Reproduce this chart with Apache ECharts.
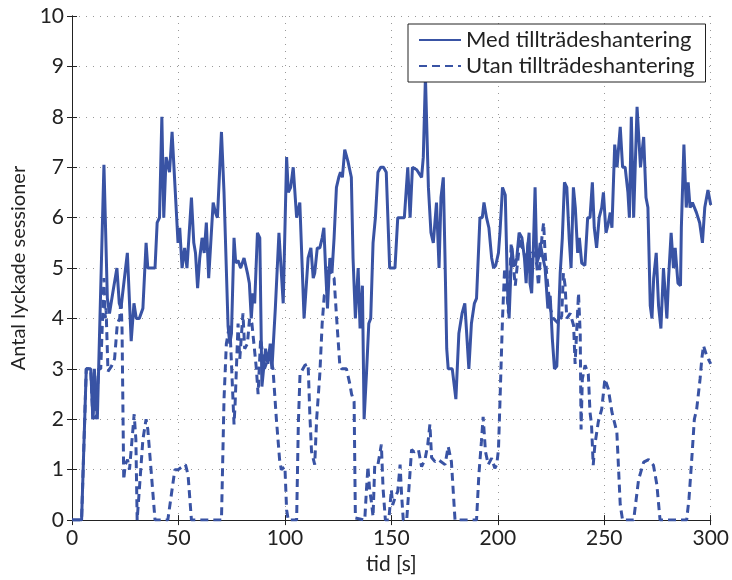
<!DOCTYPE html>
<html>
<head>
<meta charset="utf-8">
<script src="https://cdn.jsdelivr.net/npm/echarts@6/dist/echarts.min.js"></script>
<style>
  html, body { margin: 0; padding: 0; background: #fff; }
  #chart { width: 732px; height: 580px; }
</style>
</head>
<body>
<div id="chart"></div>
<script>
// tid [s] och antal sessioner
var medT = [0, 4.5, 6.7, 8.8, 9.8, 10.5, 11.9, 15, 16.6, 17.6, 19.5, 21.1, 22.2, 23, 23.8, 26, 27.8, 29.1, 30.2, 31.6,
  33.3, 34.8, 35.6, 39, 40, 41.1, 42.2, 43.1, 44.2, 45.8, 47, 49.8, 50.6, 51.7, 52.9, 54, 56.1, 57.2, 58, 59,
  60, 61.1, 62.1, 63.1, 64.2, 66.3, 67.4, 68.3, 70.2, 71.4, 73.3, 74.1, 74.9, 76.1, 76.9, 78, 79.2, 80.8, 82.4, 83.3,
  84.2, 85, 85.8, 87.1, 88.2, 89.2, 90.1, 90.9, 92, 93.1, 93.9, 95.5, 97.2, 99.2, 100.8, 101.6, 102.7, 103.9, 105.5, 106.3,
  107, 109, 110.9, 112.2, 113.3, 114, 115.2, 116.4, 117.5, 118.3, 119.2, 120, 121.1, 122.1, 123.1, 124.2, 125.3, 126.1, 127, 128.1,
  129.7, 131.2, 132, 133.1, 134.4, 135.3, 136.4, 137.2, 138.3, 139.4, 140.3, 141.4, 142.5, 143.7, 145, 146.3, 147.6, 149.2, 151.7, 153,
  156.1, 157.7, 158.8, 159.9, 161.9, 164.2, 165, 166, 167.4, 168.6, 169.7, 171.2, 172.4, 173.3, 174.4, 175.2, 176, 176.7, 178.6, 180.3,
  181.7, 183.2, 184.5, 186.4, 187.6, 189, 190, 190.6, 191.6, 192.7, 193.5, 194.7, 195.8, 197.1, 198, 199, 200.3, 201, 202.2, 203.5,
  204.3, 204.7, 205.3, 206.1, 206.6, 207.4, 208.2, 208.9, 210, 211.3, 212.5, 213.3, 214, 214.7, 215.1, 215.9, 216.7, 217.5, 218.3, 219.1,
  219.9, 220.7, 222.2, 223.5, 224.6, 225.6, 226.6, 227.7, 229.3, 230.3, 231.3, 232.4, 233.5, 234.4, 235.5, 236.4, 237.5, 238.3, 239.4, 240.9,
  242.2, 243.3, 244.4, 245.3, 246.4, 247.6, 248.8, 249.6, 250.8, 251.7, 252.8, 253.6, 254.9, 256, 257.5, 258.6, 259.8, 261.1, 261.8, 262.7,
  263.8, 265.4, 267, 268.5, 269.6, 270.5, 271.6, 272.4, 273.2, 274.4, 275.5, 276.6, 277.8, 279.4, 280.2, 281.4, 282.5, 283.3, 284.6, 285.8,
  286.2, 287.4, 288.5, 289.4, 290.3, 291.4, 293.3, 294.8, 296.1, 297.2, 298.7, 300];
var medV = [0, 0, 3, 3, 2, 3, 2, 7.05, 4.4, 4.1, 4.6, 5.0, 4.3, 4.2, 4.5, 5.3, 3.55, 4.3, 4.0, 4.0,
  4.2, 5.5, 5.0, 5.0, 5.9, 6.0, 8.0, 6.0, 7.2, 6.9, 7.7, 5.5, 5.8, 5.0, 5.4, 5.0, 6.4, 5.5, 5.3, 4.6,
  5.2, 5.6, 5.3, 5.9, 4.8, 6.3, 6.1, 6.0, 7.7, 6.5, 3.85, 3.5, 3.7, 5.6, 5.1, 5.15, 5.0, 5.2, 4.9, 4.7,
  4.0, 4.5, 4.3, 5.7, 5.6, 2.65, 2.65, 3.4, 3.1, 3.5, 3.0, 4.2, 5.7, 4.3, 7.2, 6.5, 6.6, 7.0, 6.0, 6.0,
  6.3, 4.0, 5.2, 5.4, 4.8, 4.9, 5.4, 5.4, 5.6, 5.8, 4.9, 4.2, 5.2, 4.9, 5.6, 6.6, 6.8, 6.9, 6.8, 7.35,
  7.1, 6.8, 5.2, 4.0, 5.0, 3.8, 4.65, 2.0, 2.9, 3.9, 4.0, 5.5, 6.0, 6.9, 7.0, 7.0, 6.9, 5.0, 5.0, 6.0,
  6.0, 7.0, 6.0, 7.0, 6.95, 6.8, 7.2, 8.8, 6.6, 5.7, 5.5, 6.3, 5.0, 6.4, 6.8, 5.2, 3.4, 3.0, 3.0, 2.4,
  3.7, 4.1, 4.3, 3.0, 3.9, 4.3, 4.4, 4.4, 6.0, 6.0, 6.3, 6.0, 5.8, 5.2, 5.0, 5.05, 5.3, 5.7, 6.6, 6.45,
  5.0, 4.45, 4.0, 4.9, 5.4, 5.1, 5.05, 5.2, 5.7, 5.6, 5.2, 4.7, 5.4, 5.7, 4.7, 4.5, 5.4, 6.6, 5.1, 5.2,
  5.5, 5.3, 5.0, 4.2, 4.45, 3.6, 3.0, 3.05, 4.9, 5.6, 6.7, 6.6, 5.6, 5.0, 6.6, 6.2, 5.3, 5.6, 5.1, 5.05,
  6.0, 6.0, 6.7, 5.8, 5.4, 6.0, 6.2, 6.5, 5.7, 5.85, 6.1, 5.8, 7.45, 7.0, 7.8, 7.0, 7.0, 6.5, 6.0, 8.0,
  6.0, 8.2, 7.0, 7.6, 6.4, 6.2, 4.25, 4.0, 4.8, 5.3, 4.25, 3.8, 5.0, 4.0, 4.8, 5.7, 5.0, 5.4, 4.7, 4.65,
  5.8, 7.45, 6.2, 6.7, 6.2, 6.3, 6.1, 5.9, 5.5, 6.2, 6.55, 6.25];

var utanT = [0, 4.5, 6.7, 8.8, 9.8, 10.5, 11.2, 12.5, 13.5, 15, 15.6, 16, 16.9, 18.5, 20, 21.3, 22.4, 23, 23.5, 24.3,
  25, 26.1, 27, 29.2, 30, 30.6, 31.5, 33.3, 34.8, 35.6, 37.5, 39, 45, 48.3, 49.8, 53.3, 54.5, 56.1, 70.2, 71.4,
  72.5, 73.3, 74.1, 75.6, 76.1, 76.6, 78, 78.8, 80.3, 81.1, 82.4, 83.4, 84.5, 86.6, 87.4, 88.6, 90.4, 92.8, 94.4, 96,
  97.5, 98.3, 100, 100.8, 101.6, 105.5, 106.3, 107.1, 109.4, 110.9, 111.7, 112.5, 114, 114.9, 116.4, 117.5, 118.5, 119.5, 120.3, 121.6,
  123.1, 124.2, 125.8, 126.6, 128.9, 130.5, 131.3, 132.5, 133.1, 137.5, 138.3, 139, 139.8, 140.6, 141.4, 142.2, 143.7, 145.3, 146.1, 147.2,
  148.8, 150, 150.6, 151.7, 153, 154.1, 154.8, 155.6, 157.2, 158.2, 159.5, 160.7, 162.7, 164.2, 165.8, 167.1, 168.1, 168.9, 170.5, 172,
  175.2, 176.7, 178.2, 179.9, 190, 191.1, 192.3, 193.1, 194.2, 195.5, 197.1, 198.6, 199.5, 200.3, 201.1, 202.2, 203.2, 204.3, 205, 206.3,
  207.4, 208.2, 209, 210.5, 212.1, 213.6, 214.4, 215.1, 215.9, 217.5, 218.3, 219.1, 219.9, 220.7, 221.5, 222.2, 223, 224.6, 226.1, 228.5,
  230, 230.8, 231.6, 232.4, 234, 235.6, 236.3, 237.9, 238.7, 239.1, 239.7, 241, 242.5, 243.3, 244, 244.8, 245.6, 247.2, 248.8, 250.3,
  251.9, 253.6, 255.9, 257.5, 258.6, 263.8, 266.1, 268.5, 270.8, 273.1, 274.7, 276.2, 288.7, 289.8, 291, 292.3, 293.4, 295, 295.8, 296.6,
  298.1, 300];
var utanV = [0, 0, 3, 3, 2.0, 2.6, 2.0, 3.0, 3.0, 4.8, 4.0, 4.2, 2.95, 3.05, 3.2, 3.9, 4.0, 4.4, 3.8, 0.8,
  1.1, 1.2, 1.0, 2.1, 1.6, 0, 0, 1.6, 2.0, 1.8, 0.8, 0, 0, 1.0, 1.0, 1.1, 0.9, 0, 0, 2.4,
  3.5, 3.7, 3.9, 2.4, 1.9, 2.3, 3.9, 3.2, 4.1, 3.4, 3.5, 4.0, 3.9, 3.0, 2.5, 3.6, 3.0, 3.3, 3.0, 2.0,
  1.2, 1.0, 1.06, 0.2, 0, 0, 1.9, 2.9, 3.07, 3.1, 2.1, 1.36, 1.1, 2.0, 2.9, 3.9, 4.46, 4.5, 5.05, 4.85,
  4.8, 4.06, 3.07, 3.0, 3.0, 2.7, 2.5, 2.35, 0.04, 0, 0.6, 1.06, 0.6, 0.37, 0.07, 1.1, 1.1, 1.5, 0.63, 0,
  0, 0.6, 0.3, 0.44, 0.57, 1.1, 0.5, 0, 0, 0.6, 1.4, 1.35, 1.4, 1.06, 1.2, 1.5, 1.9, 1.24, 1.16, 1.2,
  1.1, 1.46, 1.16, 0, 0, 0.9, 1.56, 2.05, 1.36, 1.1, 1.23, 1.03, 1.1, 1.4, 2.47, 4.0, 5.0, 4.5, 4.1, 5.5,
  5.0, 4.65, 5.0, 5.6, 5.3, 5.2, 5.57, 4.9, 5.3, 5.3, 5.05, 4.65, 5.15, 5.6, 5.9, 5.3, 4.85, 4.2, 4.0, 3.9,
  4.05, 4.9, 4.65, 4.0, 4.1, 3.86, 3.1, 4.5, 3.7, 1.8, 2.8, 3.07, 2.9, 2.14, 1.9, 1.09, 1.5, 1.95, 2.2, 2.8,
  2.6, 2.14, 1.75, 0.3, 0, 0, 0.8, 1.15, 1.2, 1.09, 0.7, 0, 0, 0.43, 1.15, 2.0, 2.2, 2.8, 3.2, 3.46,
  3.26, 3.1];

var seriesNames = ['Med tillträdeshantering', 'Utan tillträdeshantering'];
var xTicks = [0, 50, 100, 150, 200, 250, 300];
var yTicks = [0, 1, 2, 3, 4, 5, 6, 7, 8, 9, 10];

var BLUE = '#3953a4';
var INK = '#222';
var FONT = 'Lato';

function pairs(ts, vs) {
  var out = [];
  for (var i = 0; i < ts.length; i++) out.push([ts[i], vs[i]]);
  return out;
}

var chart = echarts.init(document.getElementById('chart'), null, { renderer: 'canvas' });

// ramen runt ritytan: extra axlar upptill och till höger med ticks inåt
function frameAxis(pos, range) {
  return {
    type: 'value', position: pos, min: range[0], max: range[1],
    interval: range[2],
    axisLine: { show: true, lineStyle: { color: INK, width: 1 } },
    axisTick: { show: true, inside: true, length: 5, lineStyle: { color: INK } },
    axisLabel: { show: false },
    splitLine: { show: false }
  };
}

chart.setOption({
  backgroundColor: '#fff',
  animation: false,
  textStyle: { fontFamily: FONT },
  grid: { left: 72, top: 16, width: 640, height: 506 },
  legend: {
    orient: 'vertical',
    left: 408, top: 24,
    data: seriesNames,
    backgroundColor: '#fff',
    borderColor: INK,
    borderWidth: 1,
    borderRadius: 0,
    padding: [5, 11, 5, 10],
    itemGap: 4,
    itemWidth: 42,
    itemHeight: 14,
    itemStyle: { opacity: 0 },
    textStyle: { fontSize: 22, color: INK, fontFamily: FONT }
  },
  xAxis: [{
    type: 'value', min: 0, max: 300, interval: 50,
    name: 'tid [s]', nameLocation: 'middle', nameGap: 28,
    nameTextStyle: { fontSize: 21, color: INK, fontFamily: FONT },
    axisLine: { show: true, onZero: false, lineStyle: { color: INK, width: 1 } },
    axisTick: { show: true, inside: true, length: 5, lineStyle: { color: INK } },
    axisLabel: {
      fontSize: 21, color: INK, margin: 8, fontFamily: FONT,
      formatter: function (v) { return xTicks.indexOf(v) >= 0 ? String(v) : ''; }
    },
    splitLine: { show: true, lineStyle: { color: '#999', type: [1, 6], width: 1 } }
  }, frameAxis('top', [0, 300, 50])],
  yAxis: [{
    type: 'value', min: 0, max: 10, interval: 1,
    name: 'Antal lyckade sessioner', nameLocation: 'middle', nameGap: 40,
    nameTextStyle: { fontSize: 20, color: INK, fontFamily: FONT },
    axisLine: { show: true, onZero: false, lineStyle: { color: INK, width: 1 } },
    axisTick: { show: true, inside: true, length: 5, lineStyle: { color: INK } },
    axisLabel: {
      fontSize: 21, color: INK, margin: 8, fontFamily: FONT,
      formatter: function (v) { return yTicks.indexOf(v) >= 0 ? String(v) : ''; }
    },
    splitLine: { show: true, lineStyle: { color: '#999', type: [1, 6], width: 1 } }
  }, frameAxis('right', [0, 10, 1])],
  series: [{
    name: seriesNames[0],
    type: 'line',
    data: pairs(medT, medV),
    showSymbol: false,
    symbol: 'none',
    lineStyle: { color: BLUE, width: 3 },
    itemStyle: { color: BLUE }
  }, {
    name: seriesNames[1],
    type: 'line',
    data: pairs(utanT, utanV),
    showSymbol: false,
    symbol: 'none',
    lineStyle: { color: BLUE, width: 3, type: [8, 5] },
    itemStyle: { color: BLUE }
  }]
});
</script>
</body>
</html>
